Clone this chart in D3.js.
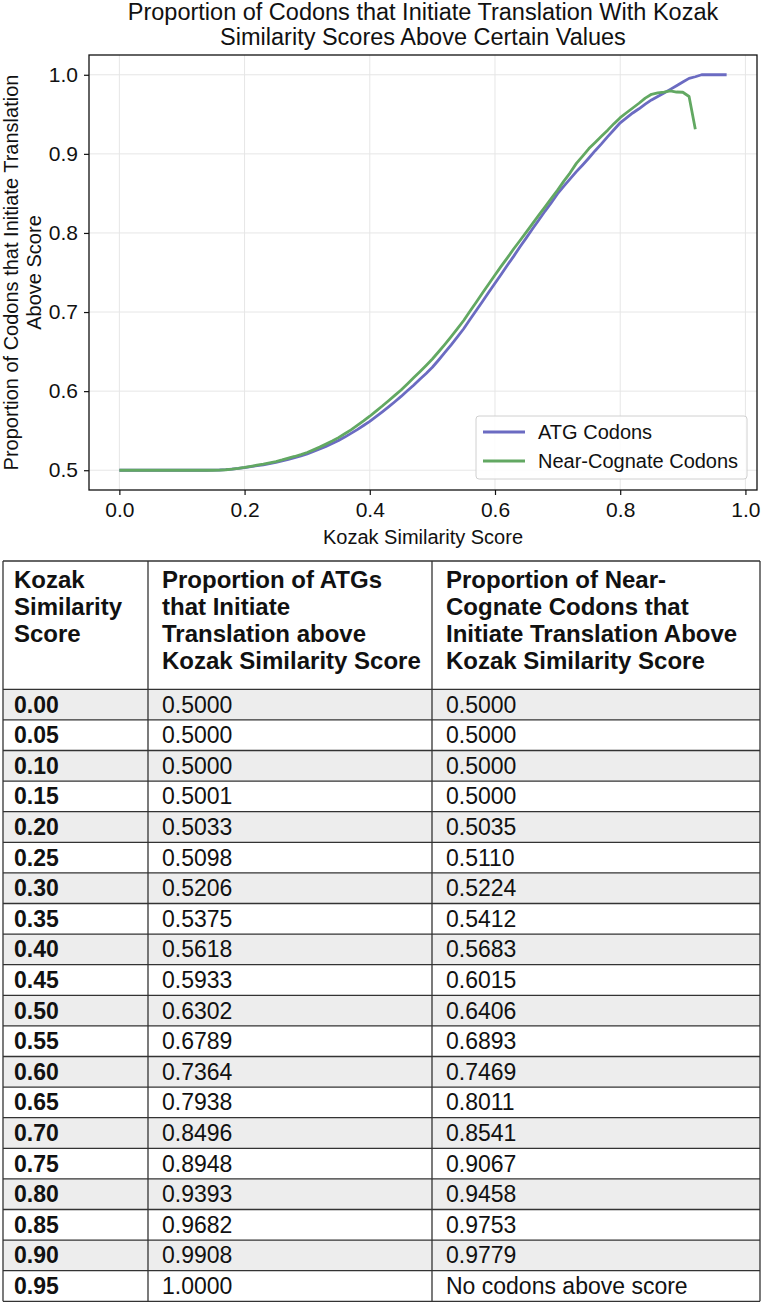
<!DOCTYPE html>
<html>
<head>
<meta charset="utf-8">
<script src="https://cdn.jsdelivr.net/npm/d3@7"></script>
<style>
  body { margin: 0; background: #fff; }
  svg text { font-family: "Liberation Sans", Arial, sans-serif; fill: #111; }
</style>
</head>
<body>
<svg id="chart"></svg>
<script>
// Kozak score on the x axis, one point every 0.01
var scores = d3.range(0, 98).map(function(i) { return i / 100; });

// Proportion of ATG codons that initiate translation above score
var atgValues = [
  0.5000, 0.5000, 0.5000, 0.5000, 0.5000, 0.5000, 0.5000, 0.5000, 0.5000, 0.5000,
  0.5000, 0.5000, 0.5000, 0.5000, 0.5000, 0.5001, 0.5003, 0.5008, 0.5015, 0.5023,
  0.5033, 0.5045, 0.5057, 0.5069, 0.5083, 0.5098, 0.5117, 0.5137, 0.5158, 0.5181,
  0.5206, 0.5236, 0.5268, 0.5302, 0.5337, 0.5375, 0.5419, 0.5466, 0.5514, 0.5565,
  0.5618, 0.5677, 0.5738, 0.5801, 0.5866, 0.5933, 0.6004, 0.6075, 0.6150, 0.6224,
  0.6302, 0.6394, 0.6489, 0.6585, 0.6686, 0.6789, 0.6905, 0.7020, 0.7133, 0.7250,
  0.7364, 0.7478, 0.7594, 0.7707, 0.7826, 0.7938, 0.8053, 0.8164, 0.8277, 0.8384,
  0.8496, 0.8593, 0.8683, 0.8775, 0.8860, 0.8948, 0.9040, 0.9127, 0.9218, 0.9305,
  0.9393, 0.9455, 0.9517, 0.9570, 0.9628, 0.9682, 0.9725, 0.9770, 0.9815, 0.9862,
  0.9908, 0.9955, 0.9975, 1.0000, 1.0000, 1.0000, 1.0000, 1.0000
];

// Proportion of near-cognate codons (stops at 0.92)
var nearValues = [
  0.5000, 0.5000, 0.5000, 0.5000, 0.5000, 0.5000, 0.5000, 0.5000, 0.5000, 0.5000,
  0.5000, 0.5000, 0.5000, 0.5000, 0.5000, 0.5000, 0.5002, 0.5006, 0.5013, 0.5023,
  0.5035, 0.5049, 0.5064, 0.5078, 0.5094, 0.5110, 0.5130, 0.5152, 0.5174, 0.5198,
  0.5224, 0.5257, 0.5292, 0.5330, 0.5369, 0.5412, 0.5461, 0.5511, 0.5568, 0.5624,
  0.5683, 0.5748, 0.5812, 0.5879, 0.5946, 0.6015, 0.6091, 0.6168, 0.6246, 0.6325,
  0.6406, 0.6498, 0.6592, 0.6690, 0.6791, 0.6893, 0.7011, 0.7124, 0.7240, 0.7355,
  0.7469, 0.7580, 0.7688, 0.7800, 0.7905, 0.8011, 0.8118, 0.8225, 0.8330, 0.8438,
  0.8541, 0.8655, 0.8760, 0.8880, 0.8972, 0.9067, 0.9145, 0.9222, 0.9300, 0.9382,
  0.9458, 0.9520, 0.9580, 0.9640, 0.9705, 0.9753, 0.9772, 0.9780, 0.9795, 0.9782,
  0.9779, 0.9725, 0.9310
];

var xTicks = [0.0, 0.2, 0.4, 0.6, 0.8, 1.0];
var yTicks = [0.5, 0.6, 0.7, 0.8, 0.9, 1.0];
var seriesNames = ["ATG Codons", "Near-Cognate Codons"];
var seriesColors = ["#6b6bc2", "#62a862"];

// Table rows
var tableScores = ["0.00", "0.05", "0.10", "0.15", "0.20", "0.25", "0.30", "0.35", "0.40", "0.45",
                   "0.50", "0.55", "0.60", "0.65", "0.70", "0.75", "0.80", "0.85", "0.90", "0.95"];
var tableAtg = ["0.5000", "0.5000", "0.5000", "0.5001", "0.5033", "0.5098", "0.5206", "0.5375", "0.5618", "0.5933",
                "0.6302", "0.6789", "0.7364", "0.7938", "0.8496", "0.8948", "0.9393", "0.9682", "0.9908", "1.0000"];
var tableNear = ["0.5000", "0.5000", "0.5000", "0.5000", "0.5035", "0.5110", "0.5224", "0.5412", "0.5683", "0.6015",
                 "0.6406", "0.6893", "0.7469", "0.8011", "0.8541", "0.9067", "0.9458", "0.9753", "0.9779", "No codons above score"];
var tableHeaders = [
  ["Kozak", "Similarity", "Score"],
  ["Proportion of ATGs", "that Initiate", "Translation above", "Kozak Similarity Score"],
  ["Proportion of Near-", "Cognate Codons that", "Initiate Translation Above", "Kozak Similarity Score"]
];

var W = 762, H = 1304;
var svg = d3.select("#chart").attr("width", W).attr("height", H);

// ---------- Line chart ----------
var plot = {left: 89, right: 757, top: 55, bottom: 490};

var x = d3.scaleLinear().domain([-0.0485, 1.0185]).range([plot.left, plot.right]);
var y = d3.scaleLinear().domain([0.475, 1.025]).range([plot.bottom, plot.top]);

// Grid
var grid = svg.append("g");
grid.selectAll(".vgrid").data(xTicks).enter().append("line")
    .attr("x1", function(d) { return x(d); }).attr("x2", function(d) { return x(d); })
    .attr("y1", plot.top).attr("y2", plot.bottom)
    .attr("stroke", "#e6e6e6").attr("stroke-width", 1);
grid.selectAll(".hgrid").data(yTicks).enter().append("line")
    .attr("x1", plot.left).attr("x2", plot.right)
    .attr("y1", function(d) { return y(d); }).attr("y2", function(d) { return y(d); })
    .attr("stroke", "#e6e6e6").attr("stroke-width", 1);

// Lines
var line = d3.line()
    .x(function(d) { return x(d[0]); })
    .y(function(d) { return y(d[1]); });

[atgValues, nearValues].forEach(function(vals, i) {
    svg.append("path")
        .datum(vals.map(function(v, j) { return [scores[j], v]; }))
        .attr("fill", "none")
        .attr("stroke", seriesColors[i])
        .attr("stroke-width", 2.8)
        .attr("stroke-linejoin", "round")
        .attr("d", line);
});

// Frame
svg.append("rect")
    .attr("x", plot.left).attr("y", plot.top)
    .attr("width", plot.right - plot.left).attr("height", plot.bottom - plot.top)
    .attr("fill", "none").attr("stroke", "#111").attr("stroke-width", 1.3);

// Axes
var xAxis = d3.axisBottom(x).tickValues(xTicks).tickFormat(d3.format(".1f")).tickSize(5).tickPadding(7);
var yAxis = d3.axisLeft(y).tickValues(yTicks).tickFormat(d3.format(".1f")).tickSize(5).tickPadding(6);

var gx = svg.append("g").attr("transform", "translate(0," + plot.bottom + ")").call(xAxis);
var gy = svg.append("g").attr("transform", "translate(" + plot.left + ",0)").call(yAxis);
[gx, gy].forEach(function(g) {
    g.select(".domain").remove();
    g.selectAll(".tick line").attr("stroke", "#111").attr("stroke-width", 1.2);
    g.selectAll(".tick text").attr("font-size", 21).attr("fill", "#111")
        .attr("font-family", "Liberation Sans, Arial, sans-serif");
});

// Title (two lines)
["Proportion of Codons that Initiate Translation With Kozak",
 "Similarity Scores Above Certain Values"].forEach(function(t, i) {
    svg.append("text")
        .attr("x", (plot.left + plot.right) / 2)
        .attr("y", 20 + i * 25)
        .attr("text-anchor", "middle")
        .attr("font-size", 23.5)
        .text(t);
});

// Axis labels
svg.append("text")
    .attr("x", (plot.left + plot.right) / 2).attr("y", 544)
    .attr("text-anchor", "middle").attr("font-size", 20)
    .text("Kozak Similarity Score");

var ylab = svg.append("text")
    .attr("transform", "translate(0," + ((plot.top + plot.bottom) / 2) + ") rotate(-90)")
    .attr("text-anchor", "middle").attr("font-size", 20);
ylab.append("tspan").attr("x", 0).attr("y", 17.5).text("Proportion of Codons that Initiate Translation");
ylab.append("tspan").attr("x", 0).attr("y", 41).text("Above Score");

// Legend
var leg = svg.append("g").attr("transform", "translate(476,416)");
leg.append("rect").attr("width", 271).attr("height", 63).attr("rx", 3)
    .attr("fill", "#fff").attr("fill-opacity", 0.85)
    .attr("stroke", "#d0d0d0").attr("stroke-width", 1);
seriesNames.forEach(function(name, i) {
    var ly = 16 + i * 29;
    leg.append("line").attr("x1", 7).attr("x2", 49).attr("y1", ly).attr("y2", ly)
        .attr("stroke", seriesColors[i]).attr("stroke-width", 2.8);
    leg.append("text").attr("x", 62).attr("y", ly + 7).attr("font-size", 20).text(name);
});

// ---------- Table ----------
var tbl = {left: 3, right: 760, top: 561, headBottom: 689.3, rowH: 30.6};
var colX = [tbl.left, 148, 432, tbl.right];
var textX = [14, 162, 446];

var rows = tableScores.map(function(s, i) { return [s, tableAtg[i], tableNear[i]]; });
var tg = svg.append("g");

// Row backgrounds
tg.selectAll(".rowbg").data(rows).enter().append("rect")
    .attr("x", tbl.left).attr("width", tbl.right - tbl.left)
    .attr("y", function(d, i) { return tbl.headBottom + i * tbl.rowH; })
    .attr("height", tbl.rowH)
    .attr("fill", function(d, i) { return i % 2 === 0 ? "#ededed" : "#fff"; });

// Header text
tableHeaders.forEach(function(lines, c) {
    tg.append("text").attr("font-size", 24).attr("font-weight", "bold")
        .selectAll("tspan").data(lines).enter().append("tspan")
        .attr("x", textX[c])
        .attr("y", function(d, i) { return 588 + i * 27; })
        .text(function(d) { return d; });
});

// Cell text
rows.forEach(function(r, i) {
    r.forEach(function(v, c) {
        tg.append("text")
            .attr("x", textX[c])
            .attr("y", tbl.headBottom + i * tbl.rowH + tbl.rowH / 2 + 8)
            .attr("font-size", 23)
            .attr("font-weight", c === 0 ? "bold" : "normal")
            .text(v);
    });
});

// Grid lines
var tableBottom = tbl.headBottom + rows.length * tbl.rowH;
var hLines = [tbl.top, tbl.headBottom].concat(rows.map(function(d, i) { return tbl.headBottom + (i + 1) * tbl.rowH; }));
tg.selectAll(".hl").data(hLines).enter().append("line")
    .attr("x1", tbl.left).attr("x2", tbl.right)
    .attr("y1", function(d) { return d; }).attr("y2", function(d) { return d; })
    .attr("stroke", "#333").attr("stroke-width", 1.3);
tg.selectAll(".vl").data(colX).enter().append("line")
    .attr("x1", function(d) { return d; }).attr("x2", function(d) { return d; })
    .attr("y1", tbl.top).attr("y2", tableBottom)
    .attr("stroke", "#333").attr("stroke-width", 1.3);
</script>
</body>
</html>
